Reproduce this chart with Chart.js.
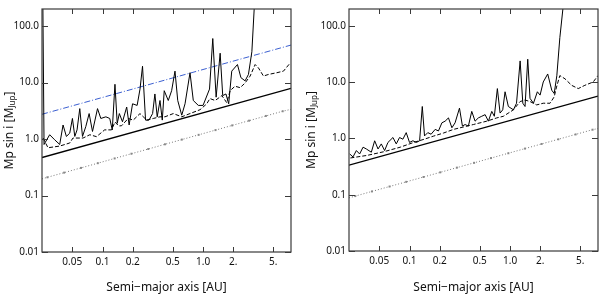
<!DOCTYPE html>
<html>
<head>
<meta charset="utf-8">
<script src="https://cdn.jsdelivr.net/npm/chart.js@4/dist/chart.umd.min.js"></script>
<style>
  html, body { margin: 0; padding: 0; background: #fff; }
  #wrap { display: flex; width: 600px; height: 298px; }
  canvas { display: block; }
</style>
</head>
<body>
<div id="wrap">
  <canvas id="left" width="300" height="298"></canvas>
  <canvas id="right" width="300" height="298"></canvas>
</div>
<script>
'use strict'

// axis ticks
const xTickVals = [0.05, 0.1, 0.2, 0.5, 1, 2, 5];
const xTickLabels = ["0.05", "0.1", "0.2", "0.5", "1.0", "2.", "5."];
const yTickVals = [0.01, 0.1, 1, 10, 100];
const yTickLabels = ["0.01", "0.1", "1.0", "10.0", "100.0"];
const xRange = [0.025, 7.5];
const yRange = [0.01, 200];

// left panel
const leftLimitX = [0.0255, 0.0262, 0.0298, 0.0334, 0.0375, 0.0405, 0.0437, 0.0472, 0.0502, 0.053, 0.0558, 0.0594, 0.0632, 0.0682, 0.0736, 0.0795, 0.0892, 0.0962, 0.108, 0.118, 0.125, 0.133, 0.14, 0.147, 0.158, 0.174, 0.184, 0.199, 0.221, 0.236, 0.25, 0.268, 0.29, 0.315, 0.332, 0.35, 0.373, 0.393, 0.411, 0.451, 0.487, 0.526, 0.56, 0.614, 0.662, 0.742, 0.8, 0.898, 1.0, 1.16, 1.25, 1.35, 1.48, 1.57, 1.69, 1.8, 1.93, 2.2, 2.38, 2.62, 2.83, 3.06, 3.25];
const leftLimitY = [250, 0.80, 1.19, 0.97, 0.80, 1.77, 1.11, 1.27, 2.31, 1.11, 1.45, 3.45, 1.11, 1.66, 2.82, 1.36, 3.45, 2.31, 2.47, 2.31, 1.45, 9.3, 1.89, 2.82, 2.02, 3.68, 1.77, 4.2, 3.93, 7.65, 19.4, 2.16, 2.16, 2.82, 6.27, 2.47, 4.8, 2.16, 7.16, 4.8, 7.16, 15.9, 4.8, 2.64, 4.2, 14.9, 4.8, 3.93, 3.93, 7.65, 60, 5.5, 33, 5.86, 6.27, 4.2, 15.9, 20.8, 12.2, 10.7, 13.9, 35, 250];
const leftDashX = [0.0256, 0.0287, 0.0375, 0.0472, 0.0508, 0.064, 0.0748, 0.0871, 0.105, 0.123, 0.133, 0.145, 0.155, 0.18, 0.202, 0.236, 0.275, 0.32, 0.373, 0.418, 0.506, 0.614, 0.742, 0.934, 1.09, 1.17, 1.32, 1.54, 1.72, 1.86, 2.08, 2.34, 2.62, 2.94, 3.3, 3.56, 3.99, 4.48, 5.43, 6.31, 7.37];
const leftDashY = [1.04, 0.70, 0.75, 0.85, 1.04, 1.04, 1.19, 1.1, 1.45, 1.45, 2.0, 1.7, 1.72, 2.31, 2.16, 2.82, 2.16, 2.31, 2.47, 2.47, 2.82, 2.47, 2.82, 3.3, 4.2, 5.2, 4.8, 5.86, 4.4, 7.16, 8.6, 8.1, 9.8, 13, 20.8, 18.1, 13, 13.9, 14.9, 15.9, 22.2];
const leftBlueY = [2.74, 46];
const leftLineY = [0.47, 7.87];
const leftDotX = [0.025, 0.0283, 0.0415, 0.0611, 0.0898, 0.132, 0.194, 0.285, 0.418, 0.615, 0.904, 1.33, 1.95, 2.87, 4.22, 6.2, 7.5];
const leftDotY = [0.197, 0.21, 0.254, 0.308, 0.373, 0.453, 0.549, 0.665, 0.806, 0.977, 1.185, 1.437, 1.74, 2.11, 2.56, 3.10, 3.35];

// right panel
const rightLimitX = [0.0254, 0.0274, 0.0296, 0.0319, 0.0345, 0.0372, 0.0417, 0.045, 0.0486, 0.0524, 0.0565, 0.061, 0.0684, 0.0738, 0.0796, 0.0859, 0.0927, 0.1, 0.108, 0.117, 0.126, 0.134, 0.141, 0.152, 0.164, 0.18, 0.194, 0.21, 0.226, 0.244, 0.264, 0.284, 0.314, 0.336, 0.357, 0.385, 0.416, 0.449, 0.484, 0.523, 0.565, 0.609, 0.658, 0.698, 0.748, 0.796, 0.846, 0.892, 0.962, 1.08, 1.16, 1.26, 1.34, 1.41, 1.5, 1.58, 1.71, 1.87, 1.99, 2.14, 2.37, 2.6, 2.75, 2.92, 3.13, 3.4];
const rightLimitY = [0.53, 0.47, 0.61, 0.53, 0.70, 0.65, 0.57, 0.91, 0.65, 0.80, 0.61, 0.85, 1.04, 0.80, 1.04, 0.97, 1.27, 0.85, 0.91, 0.85, 0.91, 3.7, 1.11, 1.27, 1.19, 1.45, 1.36, 1.9, 2.03, 2.32, 1.55, 1.9, 3.46, 1.66, 1.77, 1.66, 3.03, 2.03, 2.32, 2.48, 2.65, 2.03, 3.03, 2.48, 7.7, 2.83, 3.23, 6.76, 3.7, 3.23, 4.23, 23.9, 4.23, 3.7, 25.6, 5.17, 4.23, 6.76, 5.9, 10.1, 14, 7.2, 6.3, 13, 62, 250];
const rightDashX = [0.0258, 0.0378, 0.0552, 0.0809, 0.11, 0.14, 0.173, 0.218, 0.274, 0.344, 0.432, 0.587, 0.738, 0.859, 1.08, 1.26, 1.41, 1.58, 1.84, 2.14, 2.5, 2.75, 2.9, 3.13, 3.52, 4.1, 4.77, 5.55, 6.72, 7.5];
const rightDashY = [0.45, 0.5, 0.58, 0.7, 0.85, 0.97, 1.1, 1.25, 1.45, 1.6, 1.77, 2.03, 2.32, 2.48, 3.23, 4.53, 4.83, 4.53, 3.95, 4.23, 4.23, 5.5, 8.2, 13.1, 11.5, 8.8, 7.7, 8.8, 10.1, 13.1];
const rightLineY = [0.335, 5.66];
const rightDotX = [0.025, 0.0289, 0.0423, 0.0633, 0.0927, 0.138, 0.202, 0.296, 0.439, 0.647, 0.962, 1.41, 2.06, 3.02, 4.49, 6.62, 7.5];
const rightDotY = [0.088, 0.0946, 0.1145, 0.140, 0.1695, 0.2068, 0.250, 0.303, 0.369, 0.448, 0.546, 0.661, 0.799, 0.967, 1.18, 1.432, 1.5];

const FONT = "'Noto Sans', 'Open Sans', sans-serif";
const FRAME = '#3a3a3a';

function pts(xs, ys) {
    return xs.map((x, i) => ({x: x, y: ys[i]}));
}

const axesPlugin = {
    id: 'axesDecor',
    afterDraw(chart, args, opts) {
        const ctx = chart.ctx;
        const a = chart.chartArea;
        const sx = chart.scales.x, sy = chart.scales.y;
        ctx.save();
        ctx.strokeStyle = FRAME;
        ctx.lineWidth = 1.2;
        ctx.strokeRect(a.left, a.top, a.right - a.left, a.bottom - a.top);
        // inward ticks on all four sides
        ctx.lineWidth = 1;
        ctx.beginPath();
        xTickVals.forEach(v => {
            const px = Math.round(sx.getPixelForValue(v)) + 0.5;
            ctx.moveTo(px, a.bottom); ctx.lineTo(px, a.bottom - 5);
            ctx.moveTo(px, a.top); ctx.lineTo(px, a.top + 5);
        });
        yTickVals.forEach(v => {
            const py = Math.round(sy.getPixelForValue(v)) + 0.5;
            ctx.moveTo(a.left, py); ctx.lineTo(a.left + 6, py);
            ctx.moveTo(a.right, py); ctx.lineTo(a.right - 6, py);
        });
        ctx.stroke();

        // x title
        ctx.fillStyle = '#111';
        ctx.font = '12px ' + FONT;
        ctx.textAlign = 'center';
        ctx.textBaseline = 'middle';
        ctx.fillText('Semi\u2212major axis [AU]', (a.left + a.right) / 2, 288);

        // y title with subscript
        ctx.translate(opts.titleX, (a.top + a.bottom) / 2);
        ctx.rotate(-Math.PI / 2);
        const main = 'Mp sin i [M', sub = 'Jup', end = ']';
        ctx.font = '12px ' + FONT;
        const w1 = ctx.measureText(main).width, w3 = ctx.measureText(end).width;
        ctx.font = '8px ' + FONT;
        const w2 = ctx.measureText(sub).width;
        let x0 = -(w1 + w2 + w3) / 2;
        ctx.textAlign = 'left';
        ctx.font = '12px ' + FONT;
        ctx.fillText(main, x0, 0);
        ctx.font = '8px ' + FONT;
        ctx.fillText(sub, x0 + w1, 3);
        ctx.font = '12px ' + FONT;
        ctx.fillText(end, x0 + w1 + w2, 0);
        ctx.restore();
    }
};

function makePanel(id, p) {
    const datasets = [
        {data: pts(xRange, p.lineY), borderColor: '#000', borderWidth: 1.4},
        {data: pts(p.dotX, p.dotY), borderColor: '#777', borderWidth: 1, borderDash: [1, 2],
         pointRadius: p.dotX.map((v, i) => (i === 0 || i === p.dotX.length - 1) ? 0 : 1.4),
         pointStyle: 'rect', pointBackgroundColor: '#888', pointBorderColor: '#888', pointBorderWidth: 0},
        {data: pts(p.dashX, p.dashY), borderColor: '#000', borderWidth: 1, borderDash: [4, 2]},
        {data: pts(p.limitX, p.limitY), borderColor: '#000', borderWidth: 1}
    ];
    if (p.blueY) {
        datasets.push({data: pts(xRange, p.blueY), borderColor: '#3b5fd0', borderWidth: 1, borderDash: [6, 2, 1, 2]});
    }
    datasets.forEach(d => {
        d.showLine = true;
        d.fill = false;
        d.tension = 0;
        if (d.pointRadius === undefined) d.pointRadius = 0;
    });

    const tickFont = {family: FONT, size: 10};
    return new Chart(document.getElementById(id), {
        type: 'scatter',
        data: {datasets: datasets},
        plugins: [axesPlugin],
        options: {
            responsive: false,
            animation: false,
            devicePixelRatio: 1,
            layout: {padding: {left: 0, right: p.padRight, top: 3, bottom: 0}},
            plugins: {legend: {display: false}, tooltip: {enabled: false}, axesDecor: {titleX: p.titleX}},
            scales: {
                x: {
                    type: 'logarithmic', min: xRange[0], max: xRange[1],
                    afterBuildTicks: s => { s.ticks = xTickVals.map(v => ({value: v})); },
                    afterFit: s => { s.height = p.xHeight; },
                    ticks: {callback: (v, i) => xTickLabels[i], autoSkip: false, maxRotation: 0,
                            font: tickFont, color: '#111', padding: 4},
                    grid: {display: false, drawTicks: false},
                    border: {display: false}
                },
                y: {
                    type: 'logarithmic', min: yRange[0], max: yRange[1],
                    afterBuildTicks: s => { s.ticks = yTickVals.map(v => ({value: v})); },
                    afterFit: s => { s.width = p.yWidth; },
                    ticks: {callback: (v, i) => yTickLabels[i], autoSkip: false,
                            font: tickFont, color: '#111', padding: 3},
                    grid: {display: false, drawTicks: false},
                    border: {display: false}
                }
            }
        }
    });
}

makePanel('left', {
    limitX: leftLimitX, limitY: leftLimitY, dashX: leftDashX, dashY: leftDashY,
    lineY: leftLineY, dotX: leftDotX, dotY: leftDotY, blueY: leftBlueY,
    padRight: 9, yWidth: 42, xHeight: 46, titleX: 10
});
makePanel('right', {
    limitX: rightLimitX, limitY: rightLimitY, dashX: rightDashX, dashY: rightDashY,
    lineY: rightLineY, dotX: rightDotX, dotY: rightDotY,
    padRight: 2, yWidth: 49, xHeight: 47, titleX: 12
});
</script>
</body>
</html>
